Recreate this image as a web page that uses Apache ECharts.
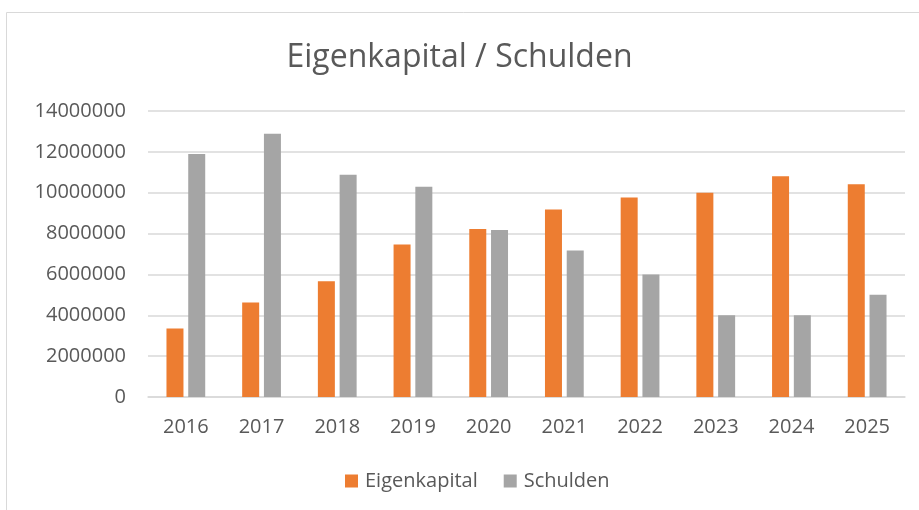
<!DOCTYPE html>
<html>
<head>
<meta charset="utf-8">
<script src="https://cdn.jsdelivr.net/npm/echarts@6/dist/echarts.min.js"></script>
<style>
  html, body { margin: 0; padding: 0; background: #fff; }
  #chart { width: 919px; height: 510px; }
</style>
</head>
<body>
<div id="chart"></div>
<script>
// data
var years = ['2016', '2017', '2018', '2019', '2020', '2021', '2022', '2023', '2024', '2025']
var eigenkapital = [3350000, 4620000, 5670000, 7470000, 8220000, 9180000, 9770000, 10000000, 10800000, 10410000]
var schulden = [11900000, 12890000, 10880000, 10290000, 8180000, 7170000, 6000000, 4000000, 4000000, 5000000]

var textColor = '#595959'
var font = 'Open Sans'

var chart = echarts.init(document.getElementById('chart'))
chart.setOption({
  animation: false,
  textStyle: { fontFamily: font },
  graphic: [{
    type: 'rect',
    shape: { x: 6.5, y: 12.5, width: 920, height: 510 },
    style: { fill: 'none', stroke: '#d9d9d9', lineWidth: 1 },
    silent: true
  }],
  title: {
    text: 'Eigenkapital / Schulden',
    left: 'center',
    top: 37,
    textStyle: { fontFamily: font, fontSize: 32, fontWeight: 'normal', color: textColor }
  },
  legend: {
    bottom: 14,
    left: 340,
    itemWidth: 13,
    itemHeight: 13,
    itemGap: 26,
    icon: 'rect',
    textStyle: { fontFamily: font, fontSize: 20, color: textColor, padding: [0, 0, 0, 2] },
    data: ['Eigenkapital', 'Schulden']
  },
  grid: {
    left: 148,
    right: 14,
    top: 111,
    bottom: 113,
    containLabel: false
  },
  xAxis: {
    type: 'category',
    data: years,
    axisLine: { lineStyle: { color: '#d9d9d9', width: 1.5 } },
    axisTick: { show: false },
    axisLabel: { color: textColor, fontSize: 20, margin: 20, fontFamily: font }
  },
  yAxis: {
    type: 'value',
    min: 0,
    max: 14000000,
    interval: 2000000,
    axisLine: { show: false },
    axisTick: { show: false },
    axisLabel: {
      color: textColor, fontSize: 20, margin: 22, fontFamily: font,
      formatter: function (v) { return String(v) }
    },
    splitLine: { lineStyle: { color: '#d9d9d9', width: 1.5 } }
  },
  series: [
    {
      name: 'Eigenkapital',
      type: 'bar',
      data: eigenkapital,
      barWidth: 17,
      barGap: '28%',
      itemStyle: { color: '#ed7d31' }
    },
    {
      name: 'Schulden',
      type: 'bar',
      data: schulden,
      barWidth: 17,
      itemStyle: { color: '#a5a5a5' }
    }
  ]
})
</script>
</body>
</html>
